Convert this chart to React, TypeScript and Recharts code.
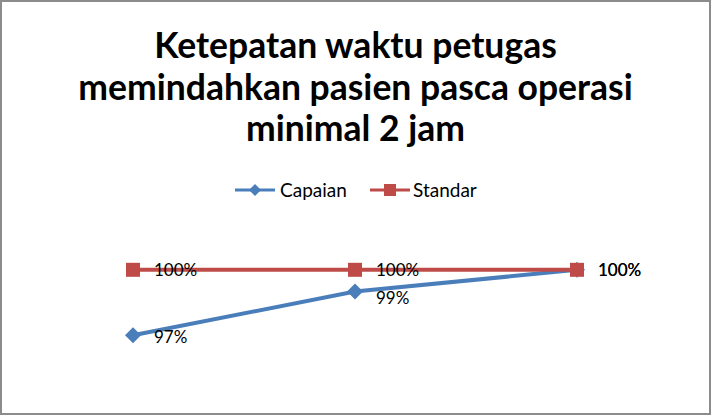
import { LineChart, Line, XAxis, YAxis, LabelList } from 'recharts'

const categories = ['1', '2', '3']
const capaian = [97, 99, 100]
const standar = [100, 100, 100]
const titleLines = ['Ketepatan waktu petugas', 'memindahkan pasien pasca operasi', 'minimal 2 jam']

const data = categories.map((c, i) => ({ name: c, capaian: capaian[i], standar: standar[i] }))

const BLUE = '#4A7EBB'
const RED = '#BE4B48'
const FONT = 'Lato, "Open Sans", sans-serif'

const Diamond = (props: any) => {
  const { cx, cy, index } = props
  return <polygon key={`d${index}`} points={`${cx},${cy - 8} ${cx + 8},${cy} ${cx},${cy + 8} ${cx - 8},${cy}`} fill={BLUE} />
}

const Square = (props: any) => {
  const { cx, cy, index } = props
  return <rect key={`s${index}`} x={cx - 7} y={cy - 7} width={14} height={14} fill={RED} />
}

const makeLabel = (dy: number[]) => (props: any) => {
  const { x, y, value, index } = props
  return (
    <text x={x + 21} y={y + dy[index]} fontSize={17} fill="#000" fontFamily={FONT}>
      {value}%
    </text>
  )
}

const capaianLabel = makeLabel([8, 12, 6])
const standarLabel = makeLabel([6, 6, 6])

export default function App() {
  return (
    <div style={{ position: 'fixed', left: 0, top: 0, width: 711, height: 415, background: '#fff' }}>
      <div
        style={{
          position: 'absolute', left: 0, top: 0, width: 711, height: 415,
          boxSizing: 'border-box', border: '2px solid #8c8c8c',
        }}
      />
      <div
        style={{
          position: 'absolute', left: 0, top: 24, width: 711, textAlign: 'center',
          fontFamily: FONT, fontWeight: 700, fontSize: 35.5, lineHeight: '41.5px', color: '#000',
        }}
      >
        {titleLines.map((t) => (
          <div key={t}>{t}</div>
        ))}
      </div>
      <svg style={{ position: 'absolute', left: 231, top: 178 }} width={270} height={26}>
        <line x1={4} y1={12} x2={44} y2={12} stroke={BLUE} strokeWidth={3} />
        <polygon points="24,6 30,12 24,18 18,12" fill={BLUE} />
        <text x={49} y={19} fontSize={19} fontFamily={FONT} fill="#000">Capaian</text>
        <line x1={139} y1={12} x2={179} y2={12} stroke={RED} strokeWidth={3} />
        <rect x={153} y={6} width={12} height={12} fill={RED} />
        <text x={182} y={19} fontSize={19} fontFamily={FONT} fill="#000">Standar</text>
      </svg>
      <div style={{ position: 'absolute', left: 0, top: 0 }}>
        <LineChart width={711} height={415} data={data} margin={{ top: 248, right: 134, bottom: 58, left: 133 }}>
          <XAxis dataKey="name" hide />
          <YAxis domain={[96, 101]} hide />
          <Line
            dataKey="capaian"
            stroke={BLUE}
            strokeWidth={4}
            dot={Diamond}
            activeDot={false}
            isAnimationActive={false}
          >
            <LabelList dataKey="capaian" content={capaianLabel} />
          </Line>
          <Line
            dataKey="standar"
            stroke={RED}
            strokeWidth={4}
            dot={Square}
            activeDot={false}
            isAnimationActive={false}
          >
            <LabelList dataKey="standar" content={standarLabel} />
          </Line>
        </LineChart>
      </div>
    </div>
  )
}
